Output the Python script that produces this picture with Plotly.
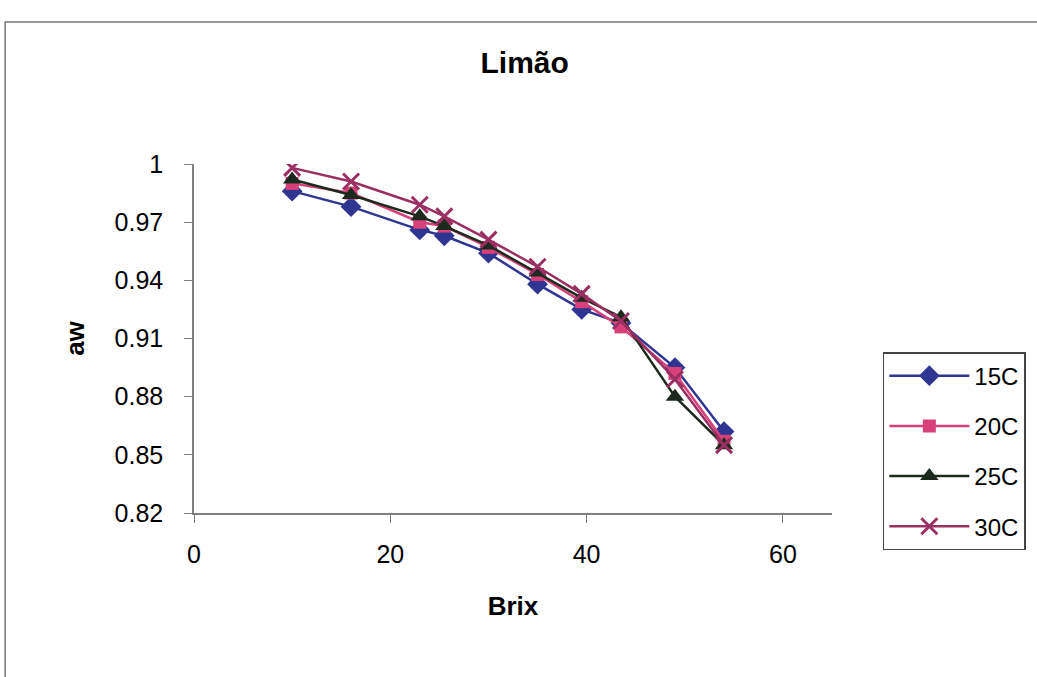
import plotly.graph_objects as go

brix = [10, 16, 23, 25.5, 30, 35, 39.5, 43.5, 49, 54]
aw_15 = [0.986, 0.978, 0.966, 0.963, 0.954, 0.938, 0.925, 0.918, 0.895, 0.862]
aw_20 = [0.990, 0.985, 0.970, 0.968, 0.957, 0.943, 0.929, 0.916, 0.892, 0.857]
aw_25 = [0.992, 0.984, 0.973, 0.968, 0.958, 0.944, 0.931, 0.921, 0.880, 0.855]
aw_30 = [0.998, 0.991, 0.979, 0.973, 0.961, 0.947, 0.933, 0.919, 0.889, 0.855]
names = ["15C", "20C", "25C", "30C"]
y_ticks = [0.82, 0.85, 0.88, 0.91, 0.94, 0.97, 1.0]
y_tick_text = ["0.82", "0.85", "0.88", "0.91", "0.94", "0.97", "1"]
x_ticks = [0, 20, 40, 60]

series = [aw_15, aw_20, aw_25, aw_30]
colors = ["#2f3590", "#d8407a", "#1c2a1e", "#9a2f62"]
symbols = ["diamond", "square", "triangle-up", "x-thin"]
sizes = [16, 13, 16, 16]

fig = go.Figure()
for name, vals, c, s, sz in zip(names, series, colors, symbols, sizes):
    fig.add_trace(go.Scatter(
        x=brix, y=vals, name=name, legendgroup=name, mode="lines+markers",
        line=dict(color=c, width=2.5),
        marker=dict(symbol=s, size=sz, color=c, line=dict(color=c, width=3 if s == "x-thin" else 0)),
    ))

font = "Liberation Sans, Arial, sans-serif"
fig.update_layout(
    width=1037, height=677,
    margin=dict(l=194, r=204, t=164, b=164),
    paper_bgcolor="white", plot_bgcolor="white",
    font=dict(family=font, color="black", size=24),
    title=dict(text="<b>Limão</b>", x=0.506, xanchor="center", y=0.908, yanchor="middle",
               font=dict(size=30, family=font, color="black")),
    xaxis=dict(range=[0, 65], tickvals=x_ticks, showgrid=False, zeroline=False,
               showline=True, linecolor="#808080", linewidth=1.5,
               ticks="outside", ticklen=8, tickcolor="#808080",
               tickfont=dict(size=25), ticklabelstandoff=10,
               title=dict(text="<b>Brix</b>", font=dict(size=26), standoff=30)),
    yaxis=dict(range=[0.82, 1.0], tickvals=y_ticks, ticktext=y_tick_text, showgrid=False,
               zeroline=False, showline=True, linecolor="#808080", linewidth=1.5,
               ticks="outside", ticklen=8, tickcolor="#808080",
               tickfont=dict(size=25), ticklabelstandoff=16,
               title=dict(text="<b>aw</b>", font=dict(size=26), standoff=22)),
    legend=dict(x=1.078, xanchor="left", y=0.461, yanchor="top",
                bordercolor="#444", borderwidth=1.5, bgcolor="white",
                font=dict(size=24), tracegroupgap=16, itemwidth=80),
    showlegend=True,
)
fig.add_shape(type="rect", xref="paper", yref="paper",
              x0=-0.296, x1=1.6, y0=-0.6, y1=1.407,
              line=dict(color="#777", width=1.5), fillcolor="rgba(0,0,0,0)", layer="below")

fig.write_html("out.html")
